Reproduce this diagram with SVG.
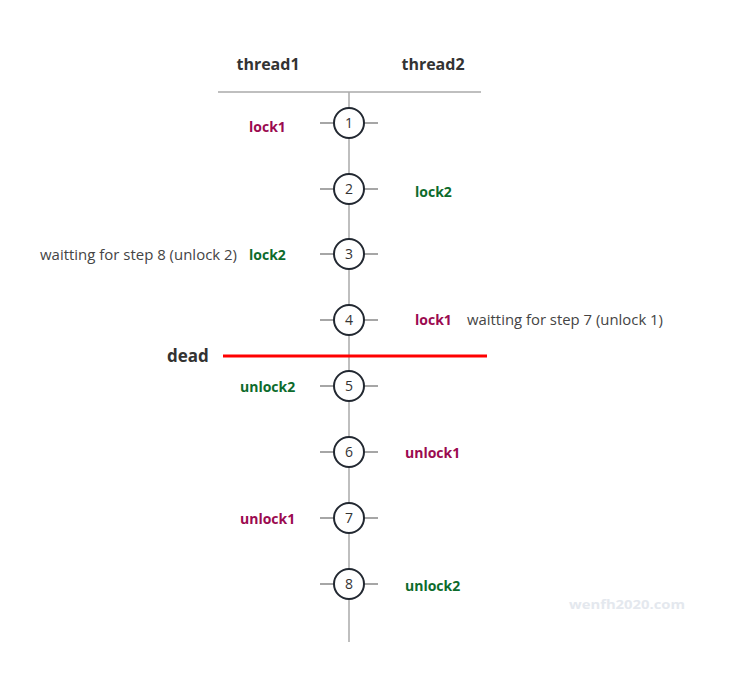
<svg xmlns="http://www.w3.org/2000/svg" width="730" height="679" viewBox="0 0 730 679">
<style>
.hdr{font-family:"Open Sans","Liberation Sans",sans-serif;font-weight:bold;font-size:16px;fill:#333;text-anchor:middle}
.num{font-family:"Open Sans","Liberation Sans",sans-serif;font-size:14px;fill:#333;text-anchor:middle}
.l1{font-family:"Open Sans","Liberation Sans",sans-serif;font-weight:bold;font-size:14px;fill:#9b0a50}
.l2{font-family:"Open Sans","Liberation Sans",sans-serif;font-weight:bold;font-size:14px;fill:#0d6b2c}
.note{font-family:"Open Sans","Liberation Sans",sans-serif;font-size:14px;fill:#444}
.circ{fill:#fff;stroke:#222831;stroke-width:2}
.tick{stroke:#888;stroke-width:1.5}
</style>
<rect width="730" height="679" fill="#fff"/>
<g id="connectors">
<line x1="349" y1="92" x2="349" y2="642" stroke="#aaa" stroke-width="1.5"/>
<line x1="218" y1="92" x2="481" y2="92" stroke="#aaa" stroke-width="1.5"/>
<line x1="223" y1="356" x2="487" y2="356" stroke="#f00" stroke-width="3"/>
</g>
<g id="header">
<text class="hdr" x="268" y="70">thread1</text>
<text class="hdr" x="433" y="70">thread2</text>
</g>
<g id="dead"><text x="167" y="362" font-family="Open Sans, Liberation Sans, sans-serif" font-weight="bold" font-size="17" fill="#333">dead</text></g>
<g id="step1"><line class="tick" x1="320" y1="123" x2="378" y2="123"/><circle class="circ" cx="349" cy="123" r="15"/><text class="num" x="349" y="128">1</text><text class="l1" x="249" y="132">lock1</text></g>
<g id="step2"><line class="tick" x1="320" y1="189" x2="378" y2="189"/><circle class="circ" cx="349" cy="189" r="15"/><text class="num" x="349" y="194">2</text><text class="l2" x="415" y="197">lock2</text></g>
<g id="step3"><line class="tick" x1="320" y1="254" x2="378" y2="254"/><circle class="circ" cx="349" cy="254" r="15"/><text class="num" x="349" y="259">3</text><text class="note" x="40" y="260" textLength="197" lengthAdjust="spacingAndGlyphs">waitting for step 8 (unlock 2)</text><text class="l2" x="249" y="260">lock2</text></g>
<g id="step4"><line class="tick" x1="320" y1="320" x2="378" y2="320"/><circle class="circ" cx="349" cy="320" r="15"/><text class="num" x="349" y="325">4</text><text class="l1" x="415" y="325">lock1</text><text class="note" x="467" y="325" textLength="196" lengthAdjust="spacingAndGlyphs">waitting for step 7 (unlock 1)</text></g>
<g id="step5"><line class="tick" x1="320" y1="386" x2="378" y2="386"/><circle class="circ" cx="349" cy="386" r="15"/><text class="num" x="349" y="391">5</text><text class="l2" x="240" y="392">unlock2</text></g>
<g id="step6"><line class="tick" x1="320" y1="452" x2="378" y2="452"/><circle class="circ" cx="349" cy="452" r="15"/><text class="num" x="349" y="457">6</text><text class="l1" x="405" y="458">unlock1</text></g>
<g id="step7"><line class="tick" x1="320" y1="518" x2="378" y2="518"/><circle class="circ" cx="349" cy="518" r="15"/><text class="num" x="349" y="523">7</text><text class="l1" x="240" y="524">unlock1</text></g>
<g id="step8"><line class="tick" x1="320" y1="584" x2="378" y2="584"/><circle class="circ" cx="349" cy="584" r="15"/><text class="num" x="349" y="589">8</text><text class="l2" x="405" y="591">unlock2</text></g>
<g id="watermark"><text x="569" y="609" font-family="Open Sans, Liberation Sans, sans-serif" font-weight="bold" font-size="13" fill="#e4e8ee" textLength="116" lengthAdjust="spacingAndGlyphs">wenfh2020.com</text></g>
</svg>
